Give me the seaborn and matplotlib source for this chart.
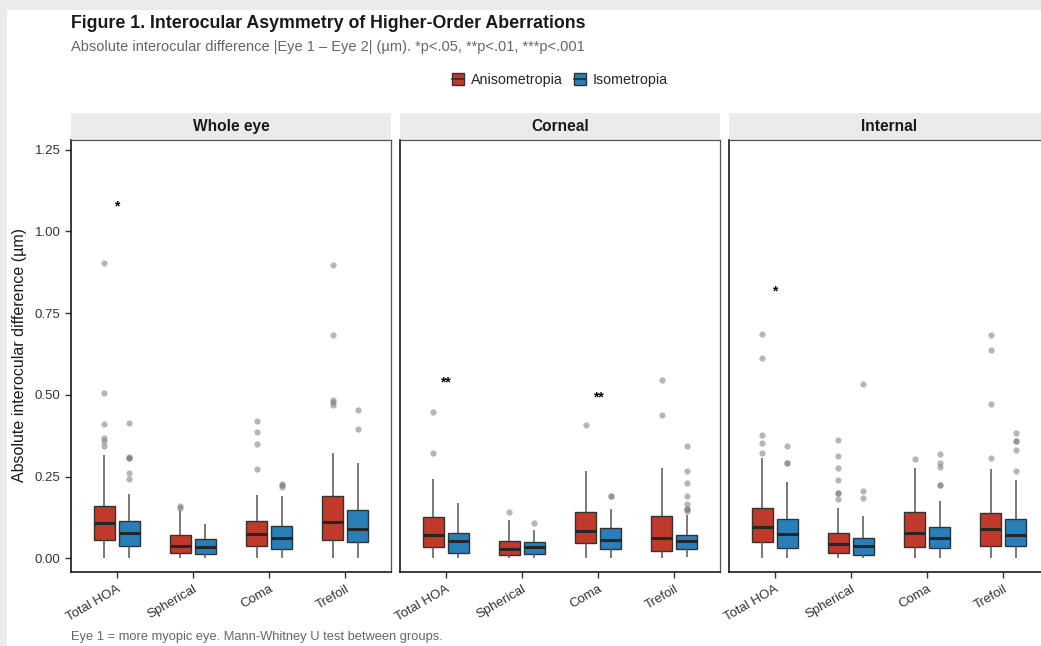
import numpy as np
import pandas as pd
import seaborn as sns
import matplotlib.pyplot as plt
from matplotlib.patches import Patch, Rectangle
from matplotlib.lines import Line2D

measures = ["Total HOA", "Spherical", "Coma", "Trefoil"]
groups = ["Anisometropia", "Isometropia"]
facets = ["Whole eye", "Corneal", "Internal"]
colors = ["#C0392B", "#2980B9"]

# box summaries: lower whisker, Q1, median, Q3, upper whisker
whole_aniso_box = [
    [0.000, 0.056, 0.108, 0.161, 0.316],
    [0.000, 0.017, 0.039, 0.070, 0.148],
    [0.000, 0.039, 0.074, 0.115, 0.194],
    [0.000, 0.056, 0.112, 0.190, 0.323],
]
whole_iso_box = [
    [0.000, 0.039, 0.077, 0.113, 0.196],
    [0.000, 0.012, 0.034, 0.059, 0.106],
    [0.000, 0.027, 0.061, 0.100, 0.189],
    [0.000, 0.049, 0.089, 0.148, 0.292],
]
whole_aniso_out = [
    [0.345, 0.360, 0.368, 0.410, 0.505, 0.905],
    [0.155, 0.161],
    [0.274, 0.351, 0.385, 0.420],
    [0.470, 0.478, 0.483, 0.682, 0.896],
]
whole_iso_out = [
    [0.243, 0.260, 0.306, 0.306, 0.309, 0.414],
    [],
    [0.219, 0.224, 0.228],
    [0.397, 0.454],
]

corneal_aniso_box = [
    [0.000, 0.035, 0.071, 0.127, 0.244],
    [0.002, 0.009, 0.027, 0.053, 0.116],
    [0.000, 0.047, 0.082, 0.141, 0.266],
    [0.000, 0.023, 0.062, 0.130, 0.276],
]
corneal_iso_box = [
    [0.000, 0.016, 0.052, 0.078, 0.168],
    [0.000, 0.013, 0.033, 0.049, 0.085],
    [0.000, 0.028, 0.055, 0.092, 0.151],
    [0.005, 0.027, 0.053, 0.070, 0.131],
]
corneal_aniso_out = [
    [0.322, 0.448],
    [0.141],
    [0.408],
    [0.437, 0.545],
]
corneal_iso_out = [
    [],
    [0.109],
    [0.192, 0.192],
    [0.146, 0.150, 0.150, 0.166, 0.191, 0.229, 0.266, 0.345],
]

internal_aniso_box = [
    [0.000, 0.049, 0.096, 0.153, 0.306],
    [0.000, 0.015, 0.045, 0.078, 0.154],
    [0.000, 0.035, 0.077, 0.141, 0.276],
    [0.000, 0.039, 0.088, 0.138, 0.273],
]
internal_iso_box = [
    [0.000, 0.030, 0.073, 0.120, 0.233],
    [0.000, 0.011, 0.038, 0.063, 0.128],
    [0.000, 0.031, 0.063, 0.097, 0.174],
    [0.000, 0.036, 0.071, 0.121, 0.241],
]
internal_aniso_out = [
    [0.323, 0.352, 0.376, 0.612, 0.686],
    [0.182, 0.200, 0.200, 0.238, 0.276, 0.312, 0.361],
    [0.305],
    [0.307, 0.471, 0.638, 0.683],
]
internal_iso_out = [
    [0.291, 0.291, 0.343],
    [0.185, 0.207, 0.534],
    [0.223, 0.223, 0.278, 0.292, 0.319],
    [0.266, 0.332, 0.358, 0.358, 0.383],
]

# significance marks
sig_facet = ["Whole eye", "Corneal", "Corneal", "Internal"]
sig_measure = ["Total HOA", "Total HOA", "Coma", "Total HOA"]
sig_label = ["*", "**", "**", "*"]
sig_y = [1.076, 0.538, 0.491, 0.816]

boxes = {
    "Whole eye": (whole_aniso_box, whole_iso_box),
    "Corneal": (corneal_aniso_box, corneal_iso_box),
    "Internal": (internal_aniso_box, internal_iso_box),
}
outs = {
    "Whole eye": (whole_aniso_out, whole_iso_out),
    "Corneal": (corneal_aniso_out, corneal_iso_out),
    "Internal": (internal_aniso_out, internal_iso_out),
}

# long table for seaborn: repeated quartile values give back the read quartiles
rows = []
for f in facets:
    for g, bx, ot in zip(groups, boxes[f], outs[f]):
        for m, b, o in zip(measures, bx, ot):
            lo, q1, med, q3, hi = b
            vals = [lo] + [q1] * 20 + [med] * 20 + [q3] * 20 + [hi] + o
            rows += [(f, m, g, v) for v in vals]
df = pd.DataFrame(rows, columns=["facet", "measure", "group", "value"])

sns.set_theme(style="ticks")
plt.rcParams["font.family"] = ["Liberation Sans", "DejaVu Sans"]

W, H = 1041, 646
fig = plt.figure(figsize=(W / 100, H / 100), dpi=100, facecolor="#ebebeb")
fig.patches.append(Rectangle((7 / W, 0), 1, (H - 10) / H, transform=fig.transFigure,
                             facecolor="white", edgecolor="none", zorder=-5))

lefts = [71, 400, 729]
top, bottom = 140, 572.3
for i, f in enumerate(facets):
    ax = fig.add_axes([lefts[i] / W, (H - bottom) / H, 320 / W, (bottom - top) / H])
    sns.boxplot(data=df[df.facet == f], x="measure", y="value", hue="group",
                order=measures, hue_order=groups, palette=colors, saturation=1,
                width=0.66, gap=0.16, linewidth=1, linecolor="#333333",
                fliersize=4.5, showcaps=False, legend=False, ax=ax,
                flierprops=dict(marker="o", markerfacecolor="#7a7a7a",
                                markeredgecolor="none", alpha=0.55),
                medianprops=dict(color="#262626", linewidth=2.2),
                whiskerprops=dict(color="#555555", linewidth=1.1))
    ax.set_xlim(-0.6, 3.6)
    ax.set_ylim(-0.043, 1.280)
    ax.set_xlabel("")
    ax.set_ylabel("")
    ax.set_yticks([0, 0.25, 0.5, 0.75, 1.0, 1.25])
    ax.set_yticklabels(["0.00", "0.25", "0.50", "0.75", "1.00", "1.25"])
    ax.tick_params(axis="both", length=4, width=1, color="#333333",
                   labelsize=9.5, labelcolor="#333333")
    plt.setp(ax.get_xticklabels(), rotation=30, ha="right", rotation_mode="anchor")
    if i > 0:
        ax.tick_params(axis="y", left=False, labelleft=False)
    for s in ["left", "bottom"]:
        ax.spines[s].set_color("#1a1a1a")
        ax.spines[s].set_linewidth(1.2)
    for s in ["top", "right"]:
        ax.spines[s].set_visible(True)
        ax.spines[s].set_color("#555555")
        ax.spines[s].set_linewidth(0.9)
    sh = 27.3 / (bottom - top)
    ax.add_patch(Rectangle((0, 1), 1, sh, transform=ax.transAxes, facecolor="#ebebeb",
                           edgecolor="none", clip_on=False))
    ax.text(0.5, 1 + sh / 2, f, transform=ax.transAxes, ha="center", va="center",
            fontsize=11.2, fontweight="bold", color="#1a1a1a")
    for sf, sm, sl, sy in zip(sig_facet, sig_measure, sig_label, sig_y):
        if sf == f:
            ax.text(measures.index(sm), sy, sl, ha="center", va="center",
                    fontsize=10, fontweight="bold", color="black")

fig.text(20 / W, 1 - 355 / H, "Absolute interocular difference (µm)", rotation=90,
         ha="center", va="center", fontsize=11.5, color="#1a1a1a")
fig.text(71 / W, 1 - 23 / H, "Figure 1. Interocular Asymmetry of Higher-Order Aberrations",
         ha="left", va="center", fontsize=12.8, fontweight="bold", color="#1a1a1a")
fig.text(71 / W, 1 - 47 / H,
         "Absolute interocular difference |Eye 1 \u2013 Eye 2| (µm). *p<.05, **p<.01, ***p<.001",
         ha="left", va="center", fontsize=10.5, color="#666666")
fig.text(71 / W, 1 - 637 / H, "Eye 1 = more myopic eye. Mann-Whitney U test between groups.",
         ha="left", va="center", fontsize=9.3, color="#666666")

handles = [(Patch(facecolor=c, edgecolor="#333333"), Line2D([], [], color="#333333", lw=1.4))
           for c in colors]
fig.legend(handles=handles, labels=groups, loc="center", bbox_to_anchor=(560 / W, 1 - 80 / H),
           ncol=2, frameon=False, fontsize=10.3, handlelength=0.8, handleheight=0.9,
           handletextpad=0.5, columnspacing=0.8)

fig.savefig("out.png", dpi=100, facecolor=fig.get_facecolor())
